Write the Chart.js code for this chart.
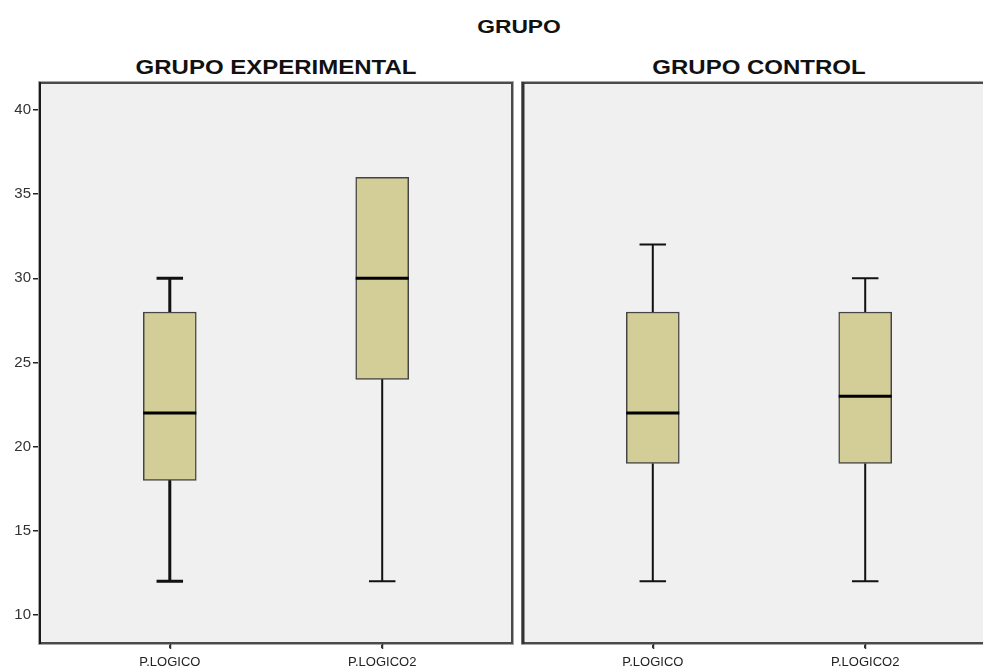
<!DOCTYPE html>
<html>
<head>
<meta charset="utf-8">
<script src="https://cdn.jsdelivr.net/npm/chart.js@4"></script>
<style>
  html, body { margin: 0; padding: 0; background: #fff; }
  body { position: relative; width: 983px; height: 669px; overflow: hidden; }
  .t {
    position: absolute;
    transform: translate(-50%, -50%) scaleX(1.2);
    font-family: "Liberation Sans", Arial, sans-serif;
    font-weight: bold;
    white-space: nowrap;
    color: #111;
  }
  canvas { position: absolute; }
</style>
</head>
<body>
<div class="t" id="mainTitle" style="left:519px; top:27px; font-size:19px;"></div>
<div class="t" id="title0" style="left:276px; top:67px; font-size:20px;"></div>
<div class="t" id="title1" style="left:759px; top:67px; font-size:20px;"></div>
<canvas id="panel0" width="520" height="606" style="left:0; top:63px;"></canvas>
<canvas id="panel1" width="520" height="606" style="left:512px; top:63px;"></canvas>
<script>
// Box plot summary of P.LOGICO scores by group
const facetTitle = 'GRUPO';
const groups = ['GRUPO EXPERIMENTAL', 'GRUPO CONTROL'];
const categories = ['P.LOGICO', 'P.LOGICO2'];

const expMin    = [12, 12];
const expQ1     = [18, 24];
const expMedian = [22, 30];
const expQ3     = [28, 36];
const expMax    = [30, 36];

const ctlMin    = [12, 12];
const ctlQ1     = [19, 19];
const ctlMedian = [22, 23];
const ctlQ3     = [28, 28];
const ctlMax    = [32, 30];

const yTicks = [10, 15, 20, 25, 30, 35, 40];

document.getElementById('mainTitle').textContent = facetTitle;
document.getElementById('title0').textContent = groups[0];
document.getElementById('title1').textContent = groups[1];

// Grey panel background behind the plot area
const panelBackground = {
  id: 'panelBackground',
  beforeDraw(chart) {
    const { ctx, chartArea: a } = chart;
    ctx.save();
    ctx.fillStyle = '#f0f0f0';
    ctx.fillRect(a.left, a.top, a.right - a.left, a.bottom - a.top);
    ctx.restore();
  }
};

// Frame round the plot area, plus the short category tick marks below it
const panelFrame = {
  id: 'panelFrame',
  afterDraw(chart, args, opts) {
    const { ctx, chartArea: a } = chart;
    const xs = chart.scales.x;
    ctx.save();
    // soft shadow on the outside
    ctx.strokeStyle = '#a8a8a8';
    ctx.lineWidth = 1;
    ctx.strokeRect(a.left - 1.5, a.top - 1.5, a.right - a.left + 3, a.bottom - a.top + 3);
    ctx.strokeStyle = '#4a4a4a';
    ctx.lineWidth = 2;
    ctx.strokeRect(a.left, a.top, a.right - a.left, a.bottom - a.top);
    // left edge heavier
    ctx.strokeStyle = opts.leftColor || '#222';
    ctx.lineWidth = opts.leftWidth || 2;
    ctx.beginPath();
    ctx.moveTo(a.left, a.top - 1);
    ctx.lineTo(a.left, a.bottom + 1);
    ctx.stroke();
    // category tick marks
    ctx.strokeStyle = '#333';
    ctx.lineWidth = 1.5;
    ctx.beginPath();
    xs.ticks.forEach(t => {
      const x = Math.round(xs.getPixelForValue(t.value)) + 0.5;
      ctx.moveTo(x, a.bottom + 1);
      ctx.lineTo(x, a.bottom + 6);
    });
    ctx.stroke();
    ctx.restore();
  }
};

// Whiskers, caps and median line on top of the floating-bar boxes
const whiskers = {
  id: 'whiskers',
  afterDatasetsDraw(chart, args, opts) {
    const { ctx } = chart;
    const xs = chart.scales.x, ys = chart.scales.y;
    const bars = chart.getDatasetMeta(0).data;
    ctx.save();
    ctx.lineCap = 'butt';
    opts.median.forEach((med, i) => {
      const bar = bars[i];
      const x = xs.getPixelForValue(i);
      const half = bar.width / 2;
      const capHalf = bar.width / 4;
      const lw = opts.whiskerWidth[i];
      ctx.strokeStyle = '#111';
      ctx.lineWidth = lw;
      const yQ1 = ys.getPixelForValue(opts.q1[i]);
      const yQ3 = ys.getPixelForValue(opts.q3[i]);
      const yMin = ys.getPixelForValue(opts.min[i]);
      const yMax = ys.getPixelForValue(opts.max[i]);
      if (opts.min[i] < opts.q1[i]) {
        ctx.beginPath();
        ctx.moveTo(x, yQ1); ctx.lineTo(x, yMin);
        ctx.moveTo(x - capHalf, yMin); ctx.lineTo(x + capHalf, yMin);
        ctx.stroke();
      }
      if (opts.max[i] > opts.q3[i]) {
        ctx.beginPath();
        ctx.moveTo(x, yQ3); ctx.lineTo(x, yMax);
        ctx.moveTo(x - capHalf, yMax); ctx.lineTo(x + capHalf, yMax);
        ctx.stroke();
      }
      ctx.strokeStyle = '#000';
      ctx.lineWidth = 3;
      const yMed = ys.getPixelForValue(med);
      ctx.beginPath();
      ctx.moveTo(x - half, yMed); ctx.lineTo(x + half, yMed);
      ctx.stroke();
    });
    ctx.restore();
  }
};

function makePanel(canvasId, stats, showY, padding, frameOpts) {
  const boxes = categories.map((c, i) => ({ x: i, y: [stats.q1[i], stats.q3[i]] }));
  return new Chart(document.getElementById(canvasId), {
    type: 'bar',
    data: {
      datasets: [{
        data: boxes,
        backgroundColor: '#d3cd97',
        borderColor: '#444',
        borderWidth: 1.5,
        borderSkipped: false,
        barThickness: 53
      }]
    },
    options: {
      responsive: false,
      animation: false,
      layout: { padding },
      plugins: {
        legend: { display: false },
        tooltip: { enabled: false },
        title: { display: false },
        whiskers: stats,
        panelFrame: frameOpts
      },
      scales: {
        x: {
          type: 'linear',
          offset: false,
          min: -0.611,
          max: 1.611,
          afterBuildTicks: s => { s.ticks = categories.map((c, i) => ({ value: i })); },
          afterFit: s => { s.height = 26; },
          ticks: {
            callback: v => categories[v],
            autoSkip: false,
            maxRotation: 0,
            padding: 7,
            color: '#222',
            font: { family: '"Liberation Sans", Arial, sans-serif', size: 13 }
          },
          grid: { offset: false, drawOnChartArea: false, drawTicks: true, tickLength: 5, color: '#333', lineWidth: 1.5 },
          border: { display: false }
        },
        y: {
          display: showY,
          min: 8.337,
          max: 41.6,
          afterBuildTicks: s => { s.ticks = yTicks.map(v => ({ value: v })); },
          afterFit: s => { s.width = showY ? 40 : 0; },
          ticks: {
            padding: 2,
            color: '#333',
            font: { family: '"Liberation Sans", Arial, sans-serif', size: 15 }
          },
          grid: { drawOnChartArea: false, drawTicks: true, tickLength: 7, color: '#222', lineWidth: 1.5 },
          border: { display: false }
        }
      }
    },
    plugins: [panelBackground, whiskers, panelFrame]
  });
}

makePanel('panel0',
  { min: expMin, q1: expQ1, median: expMedian, q3: expQ3, max: expMax, whiskerWidth: [3, 2] },
  true,
  { top: 20, left: 0, right: 8, bottom: 0 },
  { leftColor: '#1a1a1a', leftWidth: 2 });

makePanel('panel1',
  { min: ctlMin, q1: ctlQ1, median: ctlMedian, q3: ctlQ3, max: ctlMax, whiskerWidth: [2, 2] },
  false,
  { top: 20, left: 11, right: 37, bottom: 0 },
  { leftColor: '#333', leftWidth: 3 });
</script>
</body>
</html>
